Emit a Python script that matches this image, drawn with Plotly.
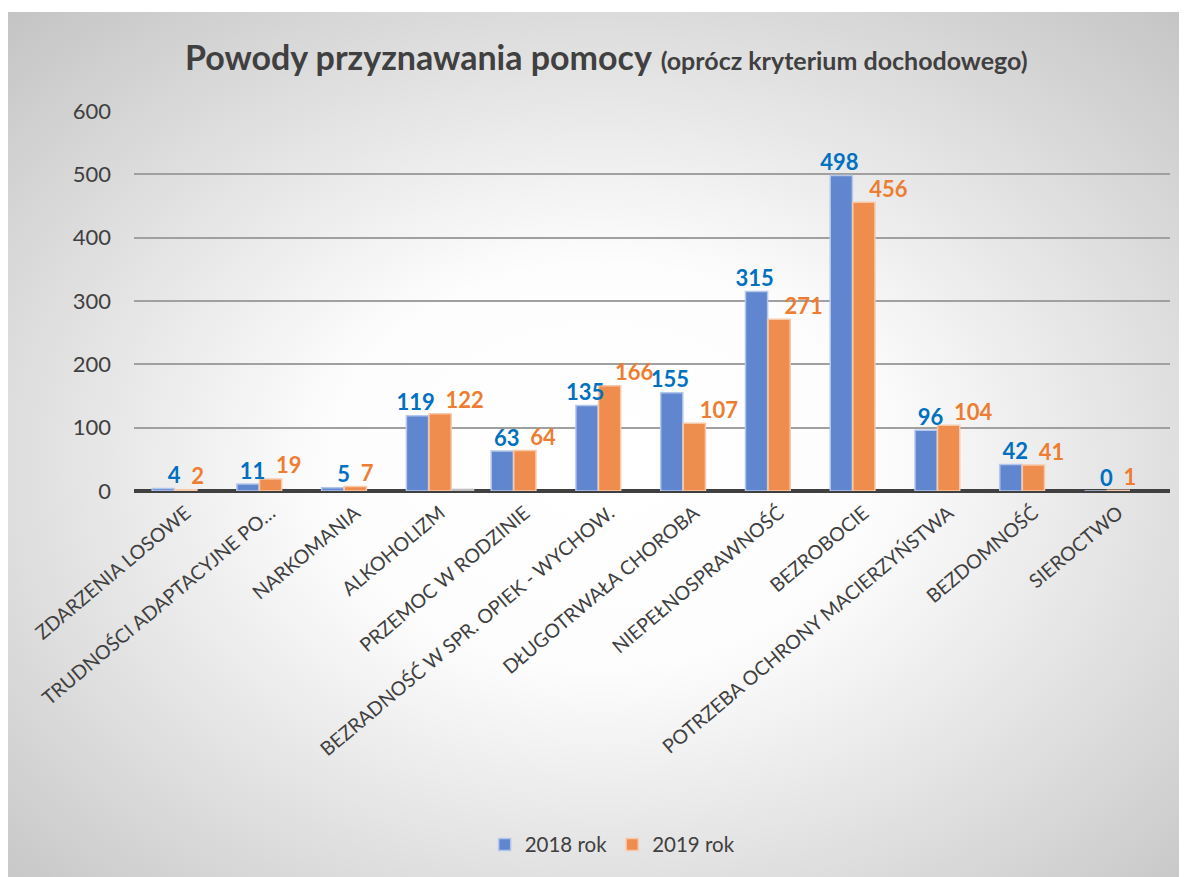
import base64
import plotly.graph_objects as go

categories = ["ZDARZENIA LOSOWE", "TRUDNOŚCI ADAPTACYJNE PO…", "NARKOMANIA", "ALKOHOLIZM",
              "PRZEMOC W RODZINIE", "BEZRADNOŚĆ W SPR. OPIEK - WYCHOW.", "DŁUGOTRWAŁA CHOROBA",
              "NIEPEŁNOSPRAWNOŚĆ", "BEZROBOCIE", "POTRZEBA OCHRONY MACIERZYŃSTWA", "BEZDOMNOŚĆ",
              "SIEROCTWO"]
values_2018 = [4, 11, 5, 119, 63, 135, 155, 315, 498, 96, 42, 0]
values_2019 = [2, 19, 7, 122, 64, 166, 107, 271, 456, 104, 41, 1]
values_extra = [None, None, None, 3, None, None, None, None, None, None, None, None]
y_ticks = [0, 100, 200, 300, 400, 500, 600]

FONT = "Lato, 'Open Sans', sans-serif"

svg = """<svg xmlns='http://www.w3.org/2000/svg' width='1187' height='873' viewBox='0 0 1187 873' preserveAspectRatio='none'>
<defs><radialGradient id='g' cx='50%' cy='52%' r='72%'>
<stop offset='0%' stop-color='#ffffff'/><stop offset='32%' stop-color='#fdfdfd'/><stop offset='100%' stop-color='#c4c4c4'/>
</radialGradient></defs><rect width='1187' height='873' fill='url(#g)'/></svg>"""
svg_uri = "data:image/svg+xml;base64," + base64.b64encode(svg.encode()).decode()

L, T, B, R = 126, 103, 394, 25
PW = 1187 - L - R
PH = 877 - T - B

fig = go.Figure()
fig.add_trace(go.Bar(
    x=categories, y=values_2018, name="2018 rok",
    marker=dict(color="#5F86CE", line=dict(color="#B4C6EA", width=1.5)),
))
fig.add_trace(go.Bar(
    x=categories, y=values_2019, name="2019 rok",
    marker=dict(color="#EF8D4E", line=dict(color="#F8C9A8", width=1.5)),
))
fig.add_trace(go.Bar(
    x=categories, y=values_extra, name="",
    marker=dict(color="#B0B0B0", line=dict(color="#D0D0D0", width=1)),
    showlegend=False, hoverinfo="skip",
))
# data labels
fig.add_trace(go.Scatter(
    x=categories, y=values_2018, mode="text", text=[f"{v}\u00a0" for v in values_2018],
    textposition="top left", showlegend=False, hoverinfo="skip", cliponaxis=False,
    textfont=dict(color="#0070C0", size=22, family=FONT, weight="bold"),
))
fig.add_trace(go.Scatter(
    x=categories, y=values_2019, mode="text", text=[f"\u00a0{v}" for v in values_2019],
    textposition="top right", showlegend=False, hoverinfo="skip", cliponaxis=False,
    textfont=dict(color="#ED7D31", size=22, family=FONT, weight="bold"),
))

fig.update_layout(
    width=1187, height=877,
    margin=dict(l=L, r=R, t=T, b=B),
    paper_bgcolor="white", plot_bgcolor="rgba(0,0,0,0)",
    barmode="group", bargap=0.2, bargroupgap=0.02,
    font=dict(family=FONT, color="#404040"),
    title=dict(
        text="<b>Powody przyznawania pomocy</b> <b><span style='font-size:25px'>(oprócz kryterium dochodowego)</span></b>",
        x=0.504, xanchor="center", y=0.943, yanchor="middle",
        font=dict(size=34, color="#404040", family=FONT),
    ),
    legend=dict(orientation="h", xref="container", yref="container", x=0.509, xanchor="center",
                y=0.046, yanchor="middle",
                font=dict(size=20.5, color="#404040", family=FONT), bgcolor="rgba(0,0,0,0)"),
    xaxis=dict(tickangle=-40, tickfont=dict(size=19.5, color="#404040", family=FONT),
               showgrid=False, showline=False, ticks="", ticklabelstandoff=6),
    yaxis=dict(range=[0, 600], tickvals=y_ticks, tickfont=dict(size=22, color="#404040", family=FONT),
               showgrid=True, gridcolor="#A0A0A0", gridwidth=1.5,
               zeroline=True, zerolinecolor="#404040", zerolinewidth=4,
               showline=False, ticks="", ticklabelstandoff=22),
    images=[dict(source=svg_uri, xref="paper", yref="paper", x=-L / PW, y=1 + (T - 4) / PH,
                 sizex=1187 / PW, sizey=873 / PH, xanchor="left", yanchor="top",
                 sizing="stretch", layer="below")],
)

fig.write_html("out.html")
